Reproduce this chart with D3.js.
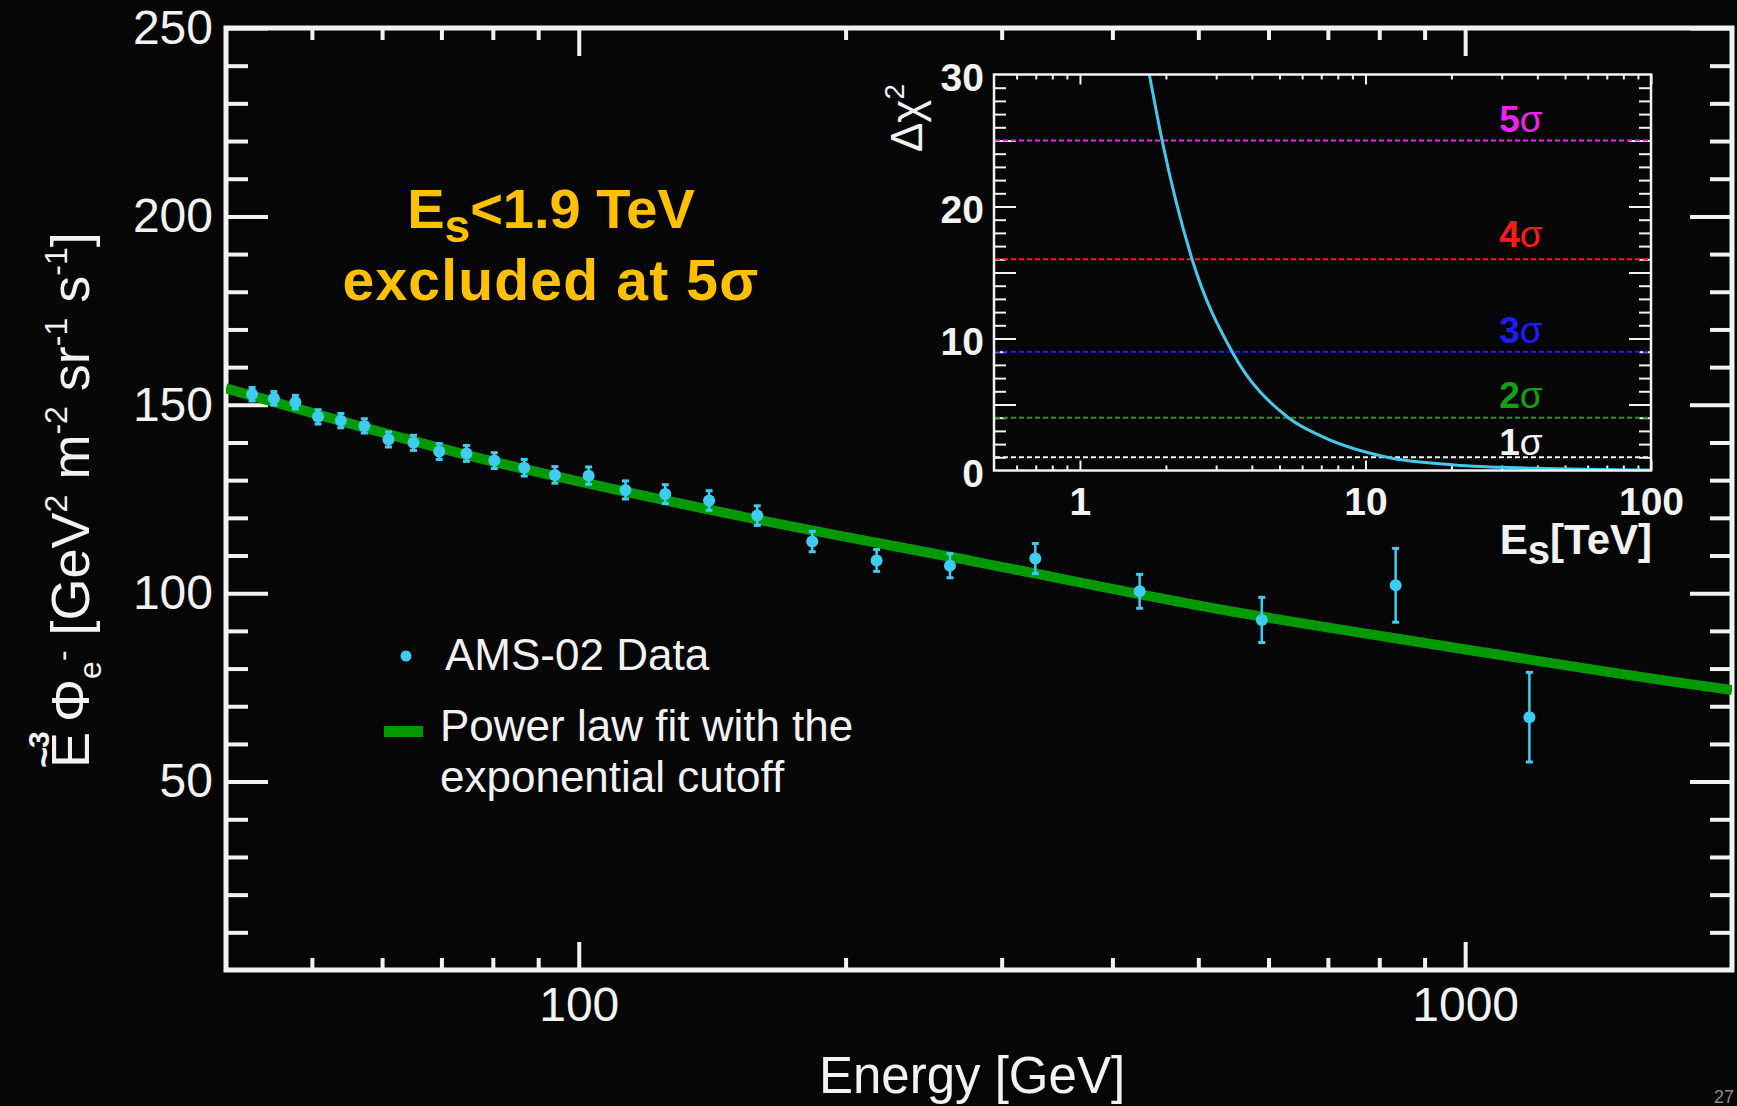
<!DOCTYPE html>
<html>
<head>
<meta charset="utf-8">
<script src="https://cdn.jsdelivr.net/npm/d3@7"></script>
<style>
  html, body { margin: 0; padding: 0; background: #060606; overflow: hidden; }
  svg { display: block; }
  text { font-family: "Liberation Sans", Arial, Helvetica, sans-serif; }
</style>
</head>
<body>
<svg id="chart" width="1737" height="1106"></svg>
<script>
// ---- AMS-02 electron flux, weighted by E^3 ----
const energyGeV = [42.8, 45.3, 47.9, 50.8, 53.9, 57.3, 61.0, 65.1, 69.6, 74.7, 80.3, 86.8, 94.0,
                   102.6, 112.9, 125.2, 140.3, 159.0, 183.4, 216.8, 262.3, 327.4, 429.3, 589.6, 834.8, 1181.6];
const fluxE3 = [152.8, 151.7, 150.7, 146.8, 145.8, 144.4, 140.8, 139.9, 137.6, 137.1, 135.2, 133.3, 131.4,
                131.2, 127.4, 126.3, 124.6, 120.6, 113.7, 108.7, 107.3, 109.2, 100.5, 92.9, 102.1, 67.1];
const fluxErr = [1.8, 1.8, 1.8, 1.9, 1.9, 1.9, 2.0, 2.0, 2.1, 2.1, 2.1, 2.2, 2.2,
                 2.3, 2.4, 2.5, 2.6, 2.6, 2.7, 2.9, 3.2, 4.0, 4.5, 6.0, 9.8, 11.9];

// ---- power law fit with exponential cutoff ----
const fitEnergyGeV = [40, 76.4, 146.2, 279.7, 534.8, 958, 1827, 2000];
const fitFlux = [154.4, 136.1, 121.3, 108.4, 95.5, 85.8, 75.6, 74.3];

// ---- main axes ticks ----
const xMajorTicks = [100, 1000];
const xMinorTicks = [50, 60, 70, 80, 90, 200, 300, 400, 500, 600, 700, 800, 900];
const yMajorTicks = [50, 100, 150, 200, 250];
const yMinorTicks = [10, 20, 30, 40, 60, 70, 80, 90, 110, 120, 130, 140, 160, 170, 180, 190, 210, 220, 230, 240];

// ---- inset: delta chi^2 versus cutoff energy ----
const cutoffTeV = [1.75, 1.94, 2.47, 3.41, 5.37, 7.0, 11.9, 20.5, 40, 100];
const deltaChi2 = [30, 25, 16, 9, 4, 2.6, 1.0, 0.42, 0.17, 0.03];
const sigmaLevels = [1, 4, 9, 16, 25];
const sigmaLabels = ["1", "2", "3", "4", "5"];
const sigmaColors = ["#f4f4f4", "#14a014", "#1c1cff", "#ff1a1a", "#ee22ee"];
const insetXMajor = [1, 10, 100];
const insetXMinor = [0.6, 0.7, 0.8, 0.9, 2, 3, 4, 5, 6, 7, 8, 9, 20, 30, 40, 50, 60, 70, 80, 90];
const insetYLabels = [0, 10, 20, 30];
const insetYMajor = [5, 10, 15, 20, 25];
const insetYMinor = d3.range(1, 30).filter(v => v % 5 !== 0);

const FG = "#f2f2f2";
const BG = "#060606";
const CYAN = "#3ecdf0";
const GREEN = "#009a00";
const ORANGE = "#ffc000";

const svg = d3.select("#chart");
svg.append("rect").attr("width", 1737).attr("height", 1106).attr("fill", BG);

// ---------- main plot ----------
const L = 226, R = 1732, T = 28, B = 970;
const x = d3.scaleLog().domain([40, 2000]).range([L, R]);
const y = d3.scaleLinear().domain([0, 250]).range([B, T]);

function tidy(g, w) {
  g.select(".domain").remove();
  g.selectAll(".tick line").attr("stroke", FG).attr("stroke-width", w);
  g.selectAll(".tick text").attr("fill", FG);
  return g;
}

// bottom axis
tidy(svg.append("g").attr("transform", `translate(0,${B})`)
  .call(d3.axisBottom(x).tickValues(xMajorTicks).tickSize(-28).tickPadding(17).tickFormat(d3.format("d"))), 4)
  .selectAll("text").attr("font-size", 48);
tidy(svg.append("g").attr("transform", `translate(0,${B})`)
  .call(d3.axisBottom(x).tickValues(xMinorTicks).tickSize(-12).tickFormat("")), 4);
// top axis
tidy(svg.append("g").attr("transform", `translate(0,${T})`)
  .call(d3.axisTop(x).tickValues(xMajorTicks).tickSize(-28).tickFormat("")), 4);
tidy(svg.append("g").attr("transform", `translate(0,${T})`)
  .call(d3.axisTop(x).tickValues(xMinorTicks).tickSize(-12).tickFormat("")), 4);
// left axis
tidy(svg.append("g").attr("transform", `translate(${L},0)`)
  .call(d3.axisLeft(y).tickValues(yMajorTicks).tickSize(-42).tickPadding(13).tickFormat(d3.format("d"))), 4)
  .selectAll("text").attr("font-size", 48);
tidy(svg.append("g").attr("transform", `translate(${L},0)`)
  .call(d3.axisLeft(y).tickValues(yMinorTicks).tickSize(-22).tickFormat("")), 4);
// right axis
tidy(svg.append("g").attr("transform", `translate(${R},0)`)
  .call(d3.axisRight(y).tickValues(yMajorTicks).tickSize(-42).tickFormat("")), 4);
tidy(svg.append("g").attr("transform", `translate(${R},0)`)
  .call(d3.axisRight(y).tickValues(yMinorTicks).tickSize(-22).tickFormat("")), 4);

// frame
svg.append("rect").attr("x", L).attr("y", T).attr("width", R - L).attr("height", B - T)
  .attr("fill", "none").attr("stroke", FG).attr("stroke-width", 5);

// axis titles
svg.append("text").attr("x", 972).attr("y", 1093).attr("text-anchor", "middle")
  .attr("font-size", 51).attr("fill", FG).text("Energy [GeV]");

const yTitle = svg.append("text").attr("transform", "translate(89,768) rotate(-90)")
  .attr("font-size", 54).attr("fill", FG);
yTitle.append("tspan").attr("x", 0).attr("y", 0).text("E");
yTitle.append("tspan").attr("x", 0).attr("y", -33).attr("font-size", 36).attr("font-weight", "bold").text("~");
yTitle.append("tspan").attr("x", 20).attr("y", -40).attr("font-size", 30).attr("font-weight", "bold").text("3");
yTitle.append("tspan").attr("x", 46).attr("y", 0).text("Φ");
yTitle.append("tspan").attr("dy", 12).attr("font-size", 32).text("e");
yTitle.append("tspan").attr("dy", -28).attr("font-size", 32).text("-");
yTitle.append("tspan").attr("dy", 16).text(" [GeV");
yTitle.append("tspan").attr("dy", -22).attr("font-size", 32).text("2");
yTitle.append("tspan").attr("dy", 22).text(" m");
yTitle.append("tspan").attr("dy", -22).attr("font-size", 32).text("-2");
yTitle.append("tspan").attr("dy", 22).text(" sr");
yTitle.append("tspan").attr("dy", -22).attr("font-size", 32).text("-1");
yTitle.append("tspan").attr("dy", 22).text(" s");
yTitle.append("tspan").attr("dy", -22).attr("font-size", 32).text("-1");
yTitle.append("tspan").attr("dy", 22).text("]");

// clip region for the plot area
svg.append("clipPath").attr("id", "plotArea").append("rect")
  .attr("x", L).attr("y", T).attr("width", R - L).attr("height", B - T);

// fit curve
const fitData = fitEnergyGeV.map((e, i) => [e, fitFlux[i]]);
svg.append("path").datum(fitData).attr("clip-path", "url(#plotArea)")
  .attr("fill", "none").attr("stroke", GREEN).attr("stroke-width", 10)
  .attr("d", d3.line().x(d => x(d[0])).y(d => y(d[1])).curve(d3.curveMonotoneX));

// data points with error bars
const pts = energyGeV.map((e, i) => ({ e, v: fluxE3[i], err: fluxErr[i] }));
const pg = svg.append("g").selectAll("g").data(pts).join("g");
pg.append("line")
  .attr("x1", d => x(d.e)).attr("x2", d => x(d.e))
  .attr("y1", d => y(d.v - d.err)).attr("y2", d => y(d.v + d.err))
  .attr("stroke", CYAN).attr("stroke-width", 2.5);
pg.append("line")
  .attr("x1", d => x(d.e) - 3.5).attr("x2", d => x(d.e) + 3.5)
  .attr("y1", d => y(d.v + d.err)).attr("y2", d => y(d.v + d.err))
  .attr("stroke", CYAN).attr("stroke-width", 3);
pg.append("line")
  .attr("x1", d => x(d.e) - 3.5).attr("x2", d => x(d.e) + 3.5)
  .attr("y1", d => y(d.v - d.err)).attr("y2", d => y(d.v - d.err))
  .attr("stroke", CYAN).attr("stroke-width", 3);
pg.append("circle").attr("cx", d => x(d.e)).attr("cy", d => y(d.v)).attr("r", 6).attr("fill", CYAN);

// legend
svg.append("circle").attr("cx", 406).attr("cy", 656).attr("r", 5.5).attr("fill", CYAN);
svg.append("text").attr("x", 445).attr("y", 670).attr("font-size", 44).attr("fill", FG).text("AMS-02 Data");
svg.append("rect").attr("x", 384).attr("y", 726).attr("width", 39).attr("height", 11).attr("fill", GREEN);
svg.append("text").attr("x", 440).attr("y", 741).attr("font-size", 44).attr("fill", FG).text("Power law fit with the");
svg.append("text").attr("x", 440).attr("y", 792).attr("font-size", 44).attr("fill", FG).text("exponential cutoff");

// exclusion statement
const note1 = svg.append("text").attr("x", 551).attr("y", 228).attr("text-anchor", "middle")
  .attr("font-size", 56).attr("font-weight", "bold").attr("fill", ORANGE);
note1.append("tspan").text("E");
note1.append("tspan").attr("dy", 14).attr("font-size", 46).text("s");
note1.append("tspan").attr("dy", -14).text("<1.9 TeV");
svg.append("text").attr("x", 551).attr("y", 300).attr("text-anchor", "middle")
  .attr("font-size", 57).attr("font-weight", "bold").attr("letter-spacing", 1.2)
  .attr("fill", ORANGE).text("excluded at 5σ");

// ---------- inset ----------
const iL = 994, iR = 1651, iT = 74.5, iB = 470.5;
const xi = d3.scaleLog().domain([0.5, 100]).range([iL, iR]);
const yi = d3.scaleLinear().domain([0, 30]).range([iB, iT]);

svg.append("rect").attr("x", iL).attr("y", iT).attr("width", iR - iL).attr("height", iB - iT).attr("fill", BG);

tidy(svg.append("g").attr("transform", `translate(0,${iB})`)
  .call(d3.axisBottom(xi).tickValues(insetXMajor).tickSize(-10).tickPadding(16.5).tickFormat(d3.format("d"))), 2)
  .selectAll("text").attr("font-size", 39).attr("font-weight", "bold");
tidy(svg.append("g").attr("transform", `translate(0,${iB})`)
  .call(d3.axisBottom(xi).tickValues(insetXMinor).tickSize(-5).tickFormat("")), 2);
tidy(svg.append("g").attr("transform", `translate(0,${iT})`)
  .call(d3.axisTop(xi).tickValues(insetXMajor).tickSize(-10).tickFormat("")), 2);
tidy(svg.append("g").attr("transform", `translate(0,${iT})`)
  .call(d3.axisTop(xi).tickValues(insetXMinor).tickSize(-5).tickFormat("")), 2);

const yl = tidy(svg.append("g").attr("transform", `translate(${iL},0)`)
  .call(d3.axisLeft(yi).tickValues(insetYLabels).tickSize(0).tickPadding(10).tickFormat(d3.format("d"))), 2);
yl.selectAll("text").attr("font-size", 39).attr("font-weight", "bold").attr("dy", "0.42em");
tidy(svg.append("g").attr("transform", `translate(${iL},0)`)
  .call(d3.axisLeft(yi).tickValues(insetYMajor).tickSize(-22).tickFormat("")), 2);
tidy(svg.append("g").attr("transform", `translate(${iL},0)`)
  .call(d3.axisLeft(yi).tickValues(insetYMinor).tickSize(-12).tickFormat("")), 2);
tidy(svg.append("g").attr("transform", `translate(${iR},0)`)
  .call(d3.axisRight(yi).tickValues(insetYMajor).tickSize(-22).tickFormat("")), 2);
tidy(svg.append("g").attr("transform", `translate(${iR},0)`)
  .call(d3.axisRight(yi).tickValues(insetYMinor).tickSize(-12).tickFormat("")), 2);

// significance levels
const lv = sigmaLevels.map((v, i) => ({ v, label: sigmaLabels[i], color: sigmaColors[i] }));
svg.append("g").selectAll("line").data(lv).join("line")
  .attr("x1", iL + 1).attr("x2", iR - 1)
  .attr("y1", d => yi(d.v)).attr("y2", d => yi(d.v))
  .attr("stroke", d => d.color).attr("stroke-width", 2).attr("stroke-dasharray", "5,3");
const labelLift = [2, 10, 9, 12, 9];
const lt = svg.append("g").selectAll("text").data(lv).join("text")
  .attr("x", 1521).attr("y", (d, i) => yi(d.v) - labelLift[i])
  .attr("text-anchor", "middle").attr("font-size", 37).attr("fill", d => d.color);
lt.append("tspan").attr("font-weight", "bold").text(d => d.label);
lt.append("tspan").text("σ");

// delta chi^2 curve
svg.append("clipPath").attr("id", "insetArea").append("rect")
  .attr("x", iL).attr("y", iT).attr("width", iR - iL).attr("height", iB - iT);
svg.append("path").datum(cutoffTeV.map((e, i) => [e, deltaChi2[i]]))
  .attr("clip-path", "url(#insetArea)")
  .attr("fill", "none").attr("stroke", "#45c8ea").attr("stroke-width", 3)
  .attr("d", d3.line().x(d => xi(d[0])).y(d => yi(d[1])).curve(d3.curveMonotoneX));

// inset frame
svg.append("rect").attr("x", iL).attr("y", iT).attr("width", iR - iL).attr("height", iB - iT)
  .attr("fill", "none").attr("stroke", FG).attr("stroke-width", 2.5);

// inset axis titles
const dchi = svg.append("text").attr("transform", "translate(922,118) rotate(-90)")
  .attr("text-anchor", "middle").attr("font-size", 44).attr("fill", FG);
dchi.append("tspan").text("Δχ");
dchi.append("tspan").attr("dy", -18).attr("font-size", 28).text("2");

const esT = svg.append("text").attr("x", 1652).attr("y", 554).attr("text-anchor", "end")
  .attr("font-size", 42).attr("font-weight", "bold").attr("fill", FG);
esT.append("tspan").text("E");
esT.append("tspan").attr("dy", 10).attr("font-size", 40).text("s");
esT.append("tspan").attr("dy", -10).text("[TeV]");

// page number
svg.append("text").attr("x", 1714).attr("y", 1103).attr("font-size", 18).attr("fill", "#8a8a8a").text("27");
</script>
</body>
</html>
